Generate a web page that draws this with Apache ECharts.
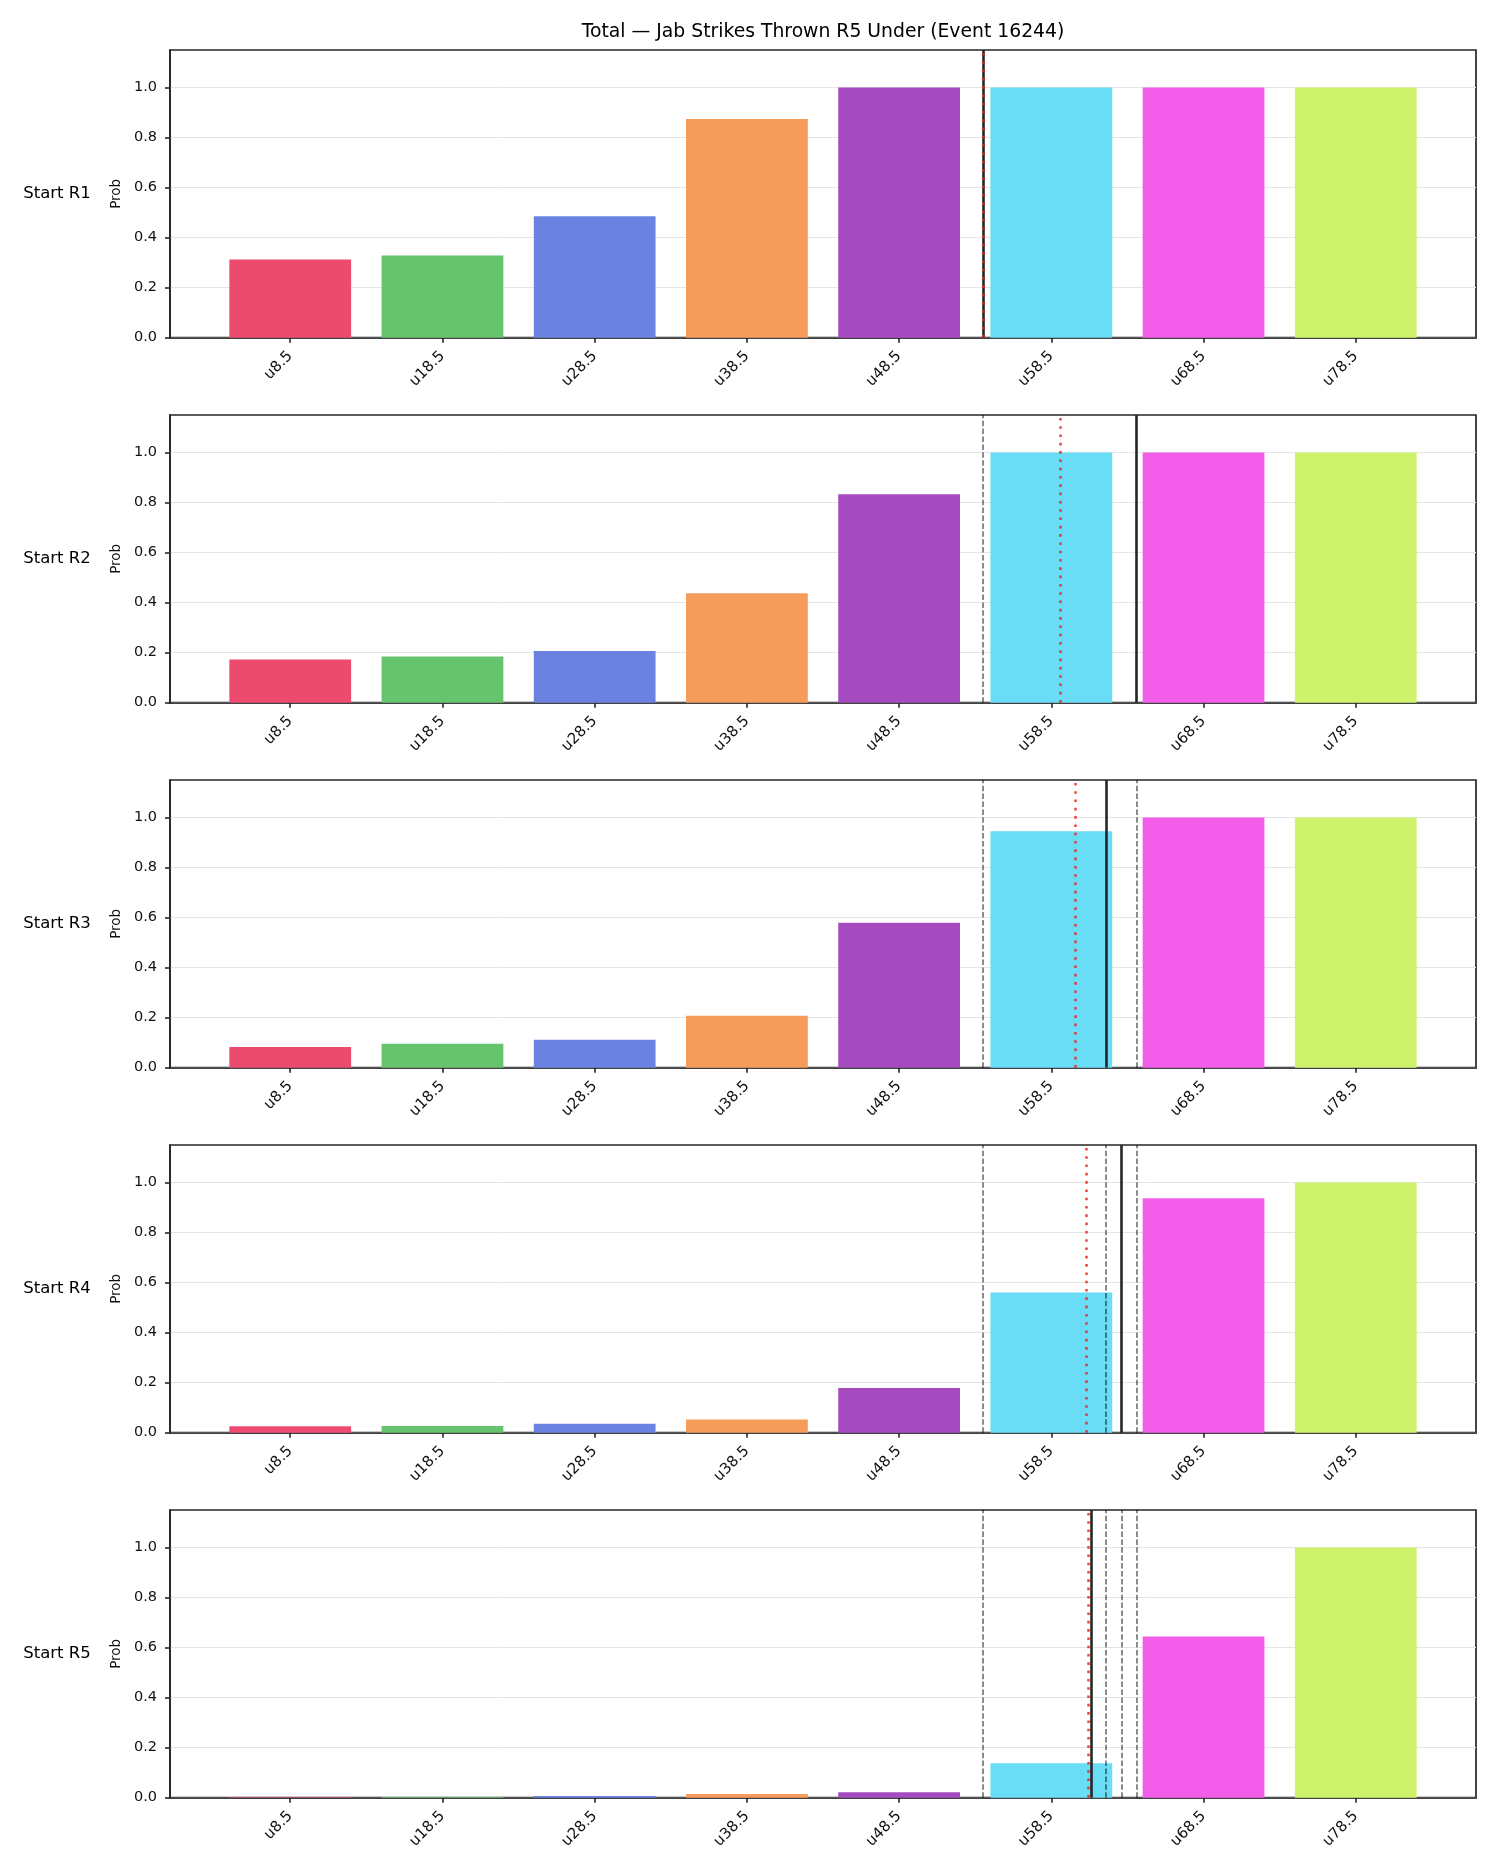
<!DOCTYPE html>
<html>
<head>
<meta charset="utf-8">
<script src="https://cdn.jsdelivr.net/npm/echarts@6/dist/echarts.min.js"></script>
<style>
  html, body { margin: 0; padding: 0; background: #fff; }
  #chart { width: 1500px; height: 1875px; }
</style>
</head>
<body>
<div id="chart"></div>
<script>
// 盘口线 (x轴类目)
const lines = [8.5, 18.5, 28.5, 38.5, 48.5, 58.5, 68.5, 78.5];
const categories = lines.map(l => 'u' + l);
const rounds = ['Start R1', 'Start R2', 'Start R3', 'Start R4', 'Start R5'];

// 各回合起点的 under 概率
const probR1 = [0.313, 0.329, 0.485, 0.874, 1.0, 1.0, 1.0, 1.0];
const probR2 = [0.173, 0.185, 0.207, 0.437, 0.833, 1.0, 1.0, 1.0];
const probR3 = [0.083, 0.096, 0.112, 0.208, 0.579, 0.945, 1.0, 1.0];
const probR4 = [0.026, 0.027, 0.036, 0.053, 0.179, 0.560, 0.937, 1.0];
const probR5 = [0.002, 0.003, 0.007, 0.015, 0.022, 0.138, 0.644, 1.0];
const probs = [probR1, probR2, probR3, probR4, probR5];

// 竖线: 黑色实线 = 节奏预测, 红色点线 = 期望值
const paceTotal = [54.0, 64.1, 62.1, 63.1, 61.1];
const expectedTotal = [54.0, 59.1, 60.1, 60.8, 60.9];

const barColors = ['#ed4a6f', '#66c46f', '#6b83e0', '#f69c5b', '#a54bbf', '#69dcf6', '#f25eea', '#cef26c'];
const yTicks = [0, 0.2, 0.4, 0.6, 0.8, 1.0];
const xTicks = categories.map((c, i) => i);

// 总数 -> 类目坐标
function toX(v) {
    return (v - lines[0]) / (lines[1] - lines[0]);
}

const font = 'DejaVu Sans';
const ink = '#262626';

const chart = echarts.init(document.getElementById('chart'));

const grids = [], xAxes = [], yAxes = [], series = [], graphics = [];

graphics.push({
    type: 'text', x: 823, y: 32,
    style: {
        text: 'Total \u2014 Jab Strikes Thrown R5 Under (Event 16244)',
        fontSize: 18.8, fontFamily: font, fill: '#000',
        textAlign: 'center', textVerticalAlign: 'middle'
    }
});

rounds.forEach((name, k) => {
    const top = 50 + k * 365;
    const h = 287.7;
    grids.push({
        left: 170, width: 1306, top: top, height: h,
        show: true, borderColor: ink, borderWidth: 1.7
    });
    xAxes.push({
        gridIndex: k, type: 'value', min: -0.79, max: 7.79,
        axisLine: { show: true, onZero: false, lineStyle: { color: ink, width: 1.7 } },
        axisTick: { show: true, length: 5, customValues: xTicks, lineStyle: { color: ink, width: 1.6 } },
        axisLabel: {
            customValues: xTicks,
            formatter: v => categories[Math.round(v)],
            rotate: 45, margin: 16, fontSize: 15, fontFamily: font, color: '#111'
        },
        splitLine: { show: false }
    });
    yAxes.push({
        gridIndex: k, type: 'value', min: 0, max: 1.15, interval: 0.2,
        name: 'Prob', nameLocation: 'middle', nameGap: 46, nameRotate: 90,
        nameTextStyle: { fontSize: 13.5, fontFamily: font, color: '#111' },
        axisLine: { show: true, onZero: false, lineStyle: { color: ink, width: 1.7 } },
        axisTick: { show: true, length: 5, customValues: yTicks, lineStyle: { color: ink, width: 1.6 } },
        axisLabel: {
            customValues: yTicks,
            formatter: v => v.toFixed(1),
            margin: 13, fontSize: 14.5, fontFamily: font, color: '#111'
        },
        splitLine: { show: true, lineStyle: { color: '#e5e5e5', width: 1 } }
    });

    // 竖线
    const marks = [];
    for (let j = 0; j < k; j++) {
        marks.push({
            xAxis: toX(paceTotal[j]),
            lineStyle: { type: [5.5, 2.4], color: 'rgba(0,0,0,0.5)', width: 1.8 }
        });
    }
    marks.push({
        xAxis: toX(paceTotal[k]),
        lineStyle: { type: 'solid', color: ink, width: 2.6 }
    });
    marks.push({
        xAxis: toX(expectedTotal[k]),
        lineStyle: { type: [2.6, 5.7], color: 'rgba(235,35,35,0.85)', width: 2.5 }
    });

    series.push({
        type: 'custom',
        xAxisIndex: k, yAxisIndex: k,
        data: probs[k].map((v, i) => [i, v]),
        encode: { x: 0, y: 1 },
        renderItem: function (params, api) {
            const i = api.value(0), v = api.value(1);
            const p0 = api.coord([i - 0.4, v]);
            const p1 = api.coord([i + 0.4, 0]);
            return {
                type: 'rect',
                shape: { x: p0[0], y: p0[1], width: p1[0] - p0[0], height: p1[1] - p0[1] },
                style: { fill: barColors[i] }
            };
        },
        markLine: {
            silent: true, symbol: ['none', 'none'],
            label: { show: false },
            data: marks
        }
    });

    graphics.push({
        type: 'text', x: 57, y: top + h / 2,
        style: {
            text: name, fontSize: 16.5, fontFamily: font, fill: '#000',
            textAlign: 'center', textVerticalAlign: 'middle'
        }
    });
});

chart.setOption({
    animation: false,
    backgroundColor: '#fff',
    grid: grids,
    xAxis: xAxes,
    yAxis: yAxes,
    series: series,
    graphic: graphics
});
</script>
</body>
</html>
